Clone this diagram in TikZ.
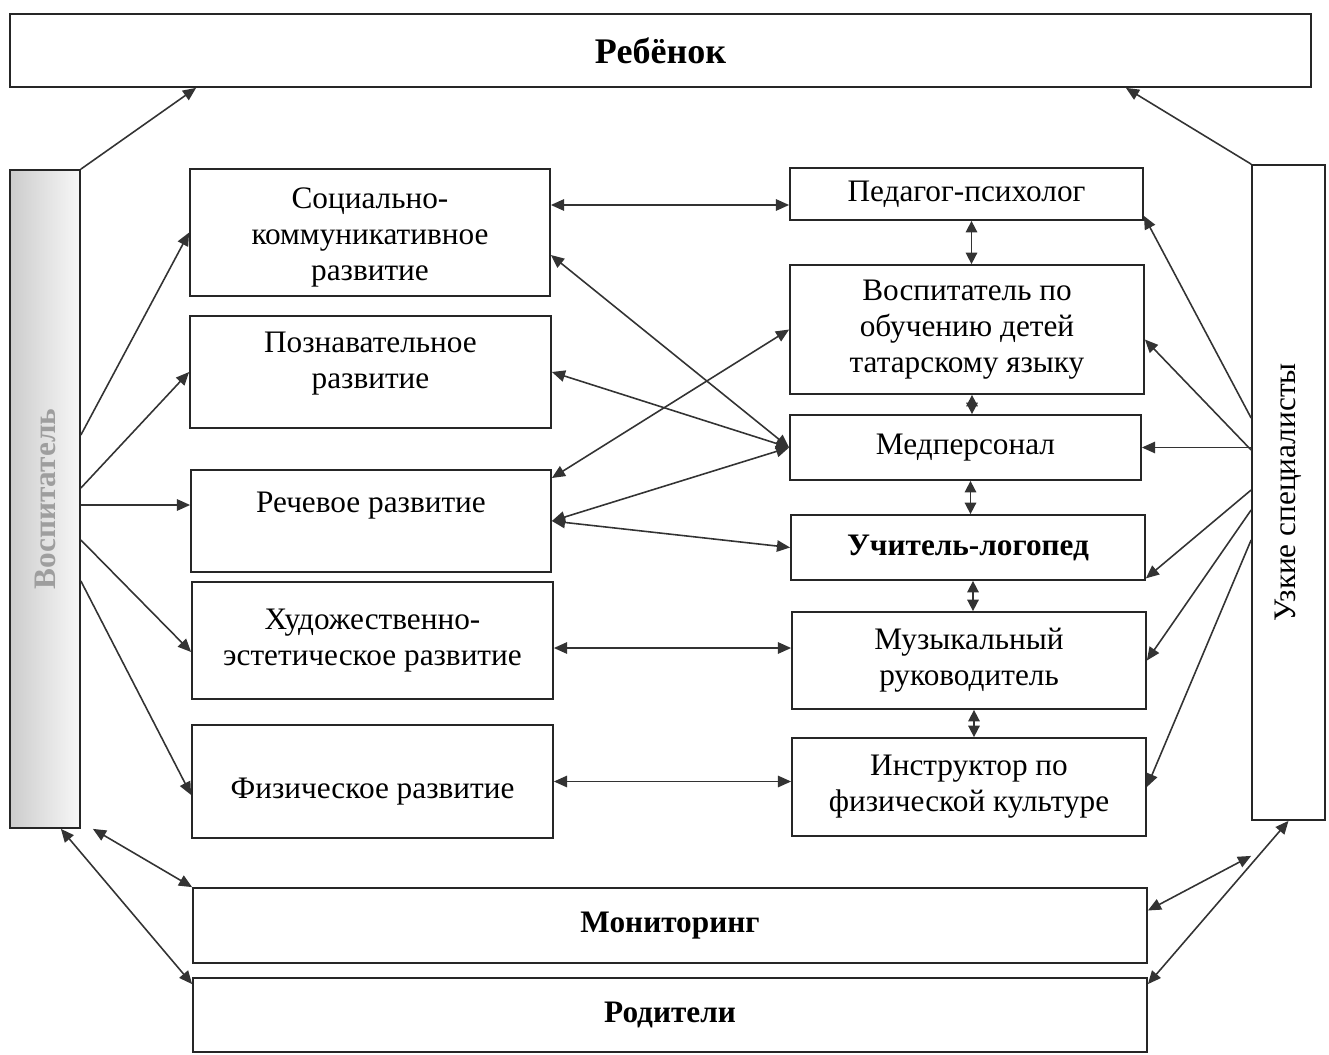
\documentclass[tikz,border=0pt]{standalone}
\usepackage{fontspec}
\setmainfont{Liberation Serif}
\usetikzlibrary{arrows.meta}

\begin{document}
\begin{tikzpicture}[
	every node/.style = {font=\fontsize{17.8}{20.5}\selectfont, align=center},
	box/.style = {shape=rectangle, draw=black!85, line width=1pt, fill=white, inner sep=2pt},
	arr/.style = {draw=black!80, line width=0.9pt, -{Triangle[length=7.5pt,width=6.5pt]}},
	dbl/.style = {draw=black!80, line width=0.9pt, {Triangle[length=7.5pt,width=6.5pt]}-{Triangle[length=7.5pt,width=6.5pt]}},
	vdbl/.style = {dbl, {Triangle[length=6.5pt,width=6.5pt]}-{Triangle[length=6.5pt,width=6.5pt]}}]
	\useasboundingbox (0,0) rectangle (26.58,-21.1);

	\node[box, minimum width=26.02cm, minimum height=1.46cm, font=\fontsize{20.5}{24}\selectfont\bfseries] (reb) at (13.21,-1.01) {Ребёнок};
	\node[box, minimum width=1.4cm, minimum height=13.16cm, left color=black!20, right color=black!3,
		text=black!38] (vosp) at (0.9,-9.98) {\rotatebox{90}{\textbf{Воспитатель}}};
	\node[box, minimum width=1.46cm, minimum height=13.1cm] (spec) at (25.77,-9.85) {\rotatebox{90}{Узкие специалисты}};

	\node[box, minimum width=7.2cm, minimum height=2.54cm] (soc) at (7.4,-4.65)
		{\raisebox{-3pt}[\height][\depth]{Социально-}\\\raisebox{-3pt}[\height][\depth]{коммуникативное}\\\raisebox{-3pt}[\height][\depth]{развитие}};
	\node[box, minimum width=7.22cm, minimum height=2.24cm] (pozn) at (7.41,-7.44)
		{\raisebox{5pt}[\height][\depth]{Познавательное}\\\raisebox{5pt}[\height][\depth]{развитие}};
	\node[box, minimum width=7.2cm, minimum height=2.04cm] (rech) at (7.42,-10.42) {\raisebox{8.5pt}[\height][\depth]{Речевое развитие}};
	\node[box, minimum width=7.22cm, minimum height=2.34cm] (hud) at (7.45,-12.81) {Художественно-\\эстетическое развитие};
	\node[box, minimum width=7.22cm, minimum height=2.26cm] (fiz) at (7.45,-15.63) {\raisebox{-6pt}[\height][\depth]{Физическое развитие}};

	\node[box, minimum width=7.06cm, minimum height=1.04cm] (psy) at (19.33,-3.88) {Педагог-психолог};
	\node[box, minimum width=7.08cm, minimum height=2.58cm] (tat) at (19.34,-6.59) {Воспитатель по\\обучению детей\\татарскому языку};
	\node[box, minimum width=7.02cm, minimum height=1.3cm] (med) at (19.31,-8.95) {Медперсонал};
	\node[box, minimum width=7.08cm, minimum height=1.3cm] (logo) at (19.36,-10.95) {\textbf{Учитель-логопед}};
	\node[box, minimum width=7.08cm, minimum height=1.94cm] (muz) at (19.38,-13.21) {Музыкальный\\руководитель};
	\node[box, minimum width=7.08cm, minimum height=1.96cm] (fizk) at (19.38,-15.74) {Инструктор по\\физической культуре};

	\node[box, minimum width=19.08cm, minimum height=1.5cm] (mon) at (13.4,-18.51) {\textbf{Мониторинг}};
	\node[box, minimum width=19.08cm, minimum height=1.48cm] (rod) at (13.4,-20.3) {\textbf{Родители}};

	\coordinate (rr) at ([yshift=0.32cm]rech.west);
	\coordinate (sp) at ([yshift=0.55cm]soc.east);
	\coordinate (hm) at ([yshift=-0.15cm]hud.east);
	\coordinate (free) at ([yshift=-0.7cm]spec.south west);

	\draw[arr] (vosp.north east) -- ([xshift=3.74cm]reb.south west);
	\draw[arr] ([yshift=1.28cm]vosp.east) -- (soc.west);
	\draw[arr] ([yshift=0.22cm]vosp.east) -- (pozn.west);
	\draw[arr] (rr -| vosp.east) -- (rr);
	\draw[arr] ([yshift=-0.82cm]vosp.east) -- ([yshift=-0.23cm]hud.west);
	\draw[arr] ([yshift=-1.64cm]vosp.east) -- ([yshift=-0.27cm]fiz.west);
	\draw[dbl] ([xshift=0.24cm]vosp.south east) -- (mon.north west);
	\draw[dbl] ([xshift=-0.4cm]vosp.south east) -- ([yshift=-0.14cm]rod.north west);

	\draw[dbl] (sp) -- (sp -| psy.west);
	\draw[dbl] ([yshift=-0.45cm]soc.east) -- (med.west);
	\draw[dbl] (pozn.east) -- (med.west);
	\draw[dbl] ([yshift=0.86cm]rech.east) -- (tat.west);
	\draw[dbl] (rech.east) -- (med.west);
	\draw[dbl] (rech.east) -- (logo.west);
	\draw[dbl] (hm) -- (hm -| muz.west);
	\draw[dbl] (fiz.east) -- (fiz.east -| fizk.west);

	\draw[vdbl] ([xshift=0.1cm]psy.south) -- ([xshift=0.1cm]psy.south |- tat.north);
	\draw[vdbl] ([xshift=0.1cm]tat.south) -- ([xshift=0.1cm]tat.south |- med.north);
	\draw[vdbl] ([xshift=0.1cm]med.south) -- ([xshift=0.1cm]med.south |- logo.north);
	\draw[vdbl] ([xshift=0.1cm]logo.south) -- ([xshift=0.1cm]logo.south |- muz.north);
	\draw[vdbl] ([xshift=0.1cm]muz.south) -- ([xshift=0.1cm]muz.south |- fizk.north);

	\draw[arr] (spec.north west) -- ([xshift=-3.72cm]reb.south east);
	\draw[arr] ([yshift=1.49cm]spec.west) -- ([yshift=0.1cm]psy.south east);
	\draw[arr] ([yshift=0.85cm]spec.west) -- ([yshift=-0.2cm]tat.east);
	\draw[arr] (med.east -| spec.west) -- (med.east);
	\draw[arr] ([yshift=0.05cm]spec.west) -- ([yshift=0.05cm]logo.south east);
	\draw[arr] ([yshift=-0.35cm]spec.west) -- (muz.east);
	\draw[arr] ([yshift=-0.95cm]spec.west) -- (fizk.east);
	\draw[dbl] ([yshift=0.3cm]mon.east) -- (free);
	\draw[dbl] ([yshift=-0.14cm]rod.north east) -- (spec.south);
\end{tikzpicture}
\end{document}
